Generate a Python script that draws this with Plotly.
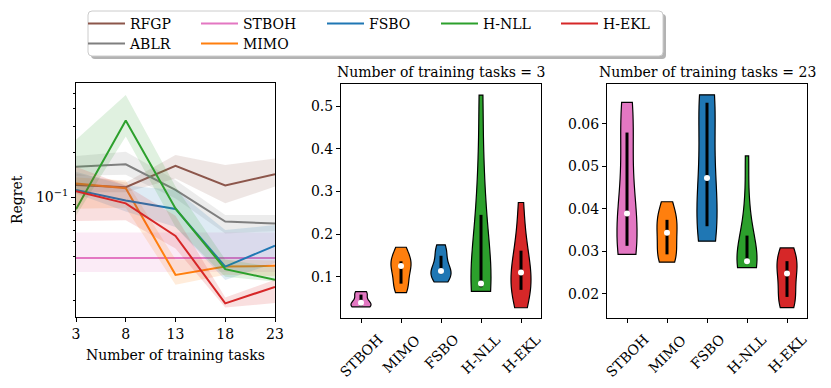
import numpy as np
import plotly.graph_objects as go

W, H = 831, 388
FONT = dict(family="DejaVu Serif", size=14, color="black")

# -----------------------------------------------------------------------------
# Data
# -----------------------------------------------------------------------------

tasks = [3, 8, 13, 18, 23]

# median regret over runs, with the 25 / 75 percentile band
rfgp_med = [0.121, 0.117, 0.163, 0.120, 0.143]
rfgp_lo = [0.108, 0.108, 0.134, 0.091, 0.118]
rfgp_hi = [0.145, 0.126, 0.193, 0.165, 0.183]

ablr_med = [0.161, 0.167, 0.112, 0.0685, 0.0664]
ablr_lo = [0.140, 0.142, 0.098, 0.057, 0.059]
ablr_hi = [0.190, 0.203, 0.131, 0.076, 0.076]

stboh_med = [0.0389, 0.0389, 0.0389, 0.0389, 0.0389]
stboh_lo = [0.0313, 0.0313, 0.0313, 0.0313, 0.0313]
stboh_hi = [0.0579, 0.0579, 0.0579, 0.0579, 0.0579]

mimo_med = [0.124, 0.115, 0.0299, 0.034, 0.0344]
mimo_lo = [0.0836, 0.085, 0.0256, 0.030, 0.0293]
mimo_hi = [0.136, 0.130, 0.038, 0.038, 0.0374]

fsbo_med = [0.112, 0.095, 0.0834, 0.034, 0.0471]
fsbo_lo = [0.106, 0.080, 0.063, 0.0276, 0.0359]
fsbo_hi = [0.149, 0.120, 0.112, 0.060, 0.0649]

hnll_med = [0.083, 0.33, 0.084, 0.0327, 0.0277]
hnll_lo = [0.075, 0.257, 0.063, 0.029, 0.0270]
hnll_hi = [0.245, 0.49, 0.118, 0.038, 0.0337]

hekl_med = [0.110, 0.091, 0.0548, 0.0192, 0.0248]
hekl_lo = [0.069, 0.070, 0.045, 0.018, 0.0193]
hekl_hi = [0.161, 0.120, 0.075, 0.021, 0.0277]

# regret of the single runs, 3 and 23 training tasks
violin_methods = ["STBOH", "MIMO", "FSBO", "H-NLL", "H-EKL"]

stboh_runs = [0.0293, 0.0305, 0.0313, 0.035, 0.0389, 0.045, 0.0579, 0.061, 0.065]

mimo_runs_3 = [0.0624, 0.078, 0.0836, 0.11, 0.125, 0.13, 0.136, 0.15, 0.169]
fsbo_runs_3 = [0.0875, 0.098, 0.106, 0.110, 0.113, 0.125, 0.149, 0.16, 0.1746]
hnll_runs_3 = [0.0654, 0.07, 0.075, 0.079, 0.084, 0.15, 0.245, 0.33, 0.526]
hekl_runs_3 = [0.027, 0.06, 0.069, 0.09, 0.110, 0.125, 0.161, 0.20, 0.274]

mimo_runs_23 = [0.02746, 0.0285, 0.0293, 0.032, 0.03435, 0.036, 0.0374, 0.039, 0.04165]
fsbo_runs_23 = [0.0324, 0.0345, 0.0359, 0.041, 0.0472, 0.053, 0.0649, 0.0662, 0.06675]
hnll_runs_23 = [0.0262, 0.0266, 0.0270, 0.0273, 0.0277, 0.030, 0.0337, 0.040, 0.0524]
hekl_runs_23 = [0.0168, 0.018, 0.0193, 0.022, 0.0248, 0.026, 0.0277, 0.029, 0.0308]

COLORS = {
    "RFGP": "#8c564b",
    "ABLR": "#7f7f7f",
    "STBOH": "#e377c2",
    "MIMO": "#ff7f0e",
    "FSBO": "#1f77b4",
    "H-NLL": "#2ca02c",
    "H-EKL": "#d62728",
}

# -----------------------------------------------------------------------------
# Helpers
# -----------------------------------------------------------------------------

def px(x):
    return x / W

def py(y):
    return 1 - y / H

def rgba(hex_color, a):
    h = hex_color.lstrip("#")
    r, g, b = int(h[0:2], 16), int(h[2:4], 16), int(h[4:6], 16)
    return f"rgba({r},{g},{b},{a})"

def rounded_box(x0, y0, x1, y1, r=4):
    # pixel box -> paper path with rounded corners
    rx, ry = r / W, r / H
    a, b, c, d = px(x0), py(y1), px(x1), py(y0)
    return (f"M{a + rx},{b} L{c - rx},{b} Q{c},{b} {c},{b + ry} "
            f"L{c},{d - ry} Q{c},{d} {c - rx},{d} L{a + rx},{d} "
            f"Q{a},{d} {a},{d - ry} L{a},{b + ry} Q{a},{b} {a + rx},{b} Z")

# -----------------------------------------------------------------------------
# Figure
# -----------------------------------------------------------------------------

fig = go.Figure()

# left: regret over number of training tasks
line_series = [
    ("RFGP", rfgp_med, rfgp_lo, rfgp_hi, "legend", 61),
    ("ABLR", ablr_med, ablr_lo, ablr_hi, "legend2", 61),
    ("STBOH", stboh_med, stboh_lo, stboh_hi, "legend", 74),
    ("MIMO", mimo_med, mimo_lo, mimo_hi, "legend2", 74),
    ("FSBO", fsbo_med, fsbo_lo, fsbo_hi, "legend", 62),
    ("H-NLL", hnll_med, hnll_lo, hnll_hi, "legend", 68),
    ("H-EKL", hekl_med, hekl_lo, hekl_hi, "legend", 68),
]

for name, med, lo, hi, leg, lw in line_series:
    c = COLORS[name]
    fig.add_trace(go.Scatter(x=tasks, y=lo, mode="lines", line=dict(width=0),
                             showlegend=False, hoverinfo="skip"))
    fig.add_trace(go.Scatter(x=tasks, y=hi, mode="lines", line=dict(width=0),
                             fill="tonexty", fillcolor=rgba(c, 0.15),
                             showlegend=False, hoverinfo="skip"))
    fig.add_trace(go.Scatter(x=tasks, y=med, mode="lines", name=name,
                             line=dict(color=c, width=2),
                             legend=leg, legendwidth=lw))

# middle and right: violins of single runs
runs_3 = [stboh_runs, mimo_runs_3, fsbo_runs_3, hnll_runs_3, hekl_runs_3]
runs_23 = [stboh_runs, mimo_runs_23, fsbo_runs_23, hnll_runs_23, hekl_runs_23]

for runs, xa, ya in [(runs_3, "x2", "y2"), (runs_23, "x3", "y3")]:
    for m, d in zip(violin_methods, runs):
        d = np.array(d)
        bw = np.std(d, ddof=1) * len(d) ** -0.2
        fig.add_trace(go.Violin(
            x=[m] * len(d), y=d, xaxis=xa, yaxis=ya,
            width=0.5, scalemode="width", spanmode="hard", points=False,
            bandwidth=bw, fillcolor=COLORS[m], opacity=1,
            line=dict(color="black", width=1.2),
            showlegend=False, hoverinfo="skip",
        ))
        q1, med, q3 = np.percentile(d, [25, 50, 75])
        fig.add_trace(go.Scatter(x=[m, m], y=[q1, q3], xaxis=xa, yaxis=ya,
                                 mode="lines", line=dict(color="black", width=3),
                                 showlegend=False, hoverinfo="skip"))
        fig.add_trace(go.Scatter(x=[m], y=[med], xaxis=xa, yaxis=ya,
                                 mode="markers", marker=dict(color="white", size=6),
                                 showlegend=False, hoverinfo="skip"))

# -----------------------------------------------------------------------------
# Layout
# -----------------------------------------------------------------------------

frame = dict(showline=True, mirror=True, linecolor="black", linewidth=1,
             ticks="outside", ticklen=4, tickwidth=1, tickcolor="black",
             showgrid=False, zeroline=False, tickfont=FONT, automargin=False)

minor_vals = [0.02, 0.03, 0.04, 0.05, 0.06, 0.07, 0.08, 0.09, 0.2, 0.3, 0.4, 0.5]

annotations = [
    dict(text="Regret", x=px(17), y=py(200), textangle=-90),
    dict(text="Number of training tasks", x=px(175.5), y=py(355)),
    dict(text="Number of training tasks = 3", x=px(441), y=py(72)),
    dict(text="Number of training tasks = 23", x=px(707), y=py(72)),
]
for a in annotations:
    a.update(xref="paper", yref="paper", showarrow=False, font=FONT,
             xanchor="center", yanchor="middle")

for xa in ["x2", "x3"]:
    for m in violin_methods:
        annotations.append(dict(text=m, x=m, xref=xa, y=py(329), yref="paper",
                                xanchor="center", yanchor="top", textangle=-45,
                                showarrow=False, font=FONT))

legend_style = dict(orientation="h", xanchor="left", yanchor="middle",
                    bgcolor="rgba(0,0,0,0)", borderwidth=0, font=FONT,
                    itemwidth=37, tracegroupgap=0, traceorder="normal")

fig.update_layout(
    width=W, height=H, autosize=False,
    margin=dict(l=0, r=0, t=0, b=0, autoexpand=False),
    paper_bgcolor="white", plot_bgcolor="white",
    font=FONT,
    violinmode="overlay",
    xaxis=dict(domain=[px(76), px(275)], range=[3, 23], tickvals=tasks,
               anchor="y", **frame),
    yaxis=dict(domain=[py(317), py(83)], type="log", range=[-1.809, -0.228],
               tickvals=[0.1], ticktext=["10<sup>−1</sup>"], anchor="x",
               minor=dict(tickmode="array", tickvals=minor_vals, ticks="outside",
                          ticklen=2, tickcolor="black"),
               **frame),
    xaxis2=dict(domain=[px(341), px(541)], type="category",
                categoryorder="array", categoryarray=violin_methods,
                range=[-0.5, 4.5], showticklabels=False, anchor="y2", **frame),
    yaxis2=dict(domain=[py(318), py(84)], range=[0.003, 0.552],
                tickvals=[0.1, 0.2, 0.3, 0.4, 0.5], anchor="x2", **frame),
    xaxis3=dict(domain=[px(607), px(807)], type="category",
                categoryorder="array", categoryarray=violin_methods,
                range=[-0.5, 4.5], showticklabels=False, anchor="y3", **frame),
    yaxis3=dict(domain=[py(318), py(84)], range=[0.01435, 0.0693],
                tickvals=[0.02, 0.03, 0.04, 0.05, 0.06], anchor="x3", **frame),
    legend=dict(x=px(83), y=py(24), **legend_style),
    legend2=dict(x=px(83), y=py(44), **legend_style),
    annotations=annotations,
    shapes=[
        dict(type="path", path=rounded_box(91, 14, 666, 59), xref="paper", yref="paper",
             fillcolor="#b3b3b3", line=dict(width=0), layer="above"),
        dict(type="path", path=rounded_box(88, 11, 663, 56), xref="paper", yref="paper",
             fillcolor="white", line=dict(color="#cccccc", width=1), layer="above"),
    ],
    showlegend=True,
)

# the page body has a default margin, drop it so the figure fills the window
fig.write_html("out.html", config={"displayModeBar": False},
               post_script="document.body.style.margin = '0';")
